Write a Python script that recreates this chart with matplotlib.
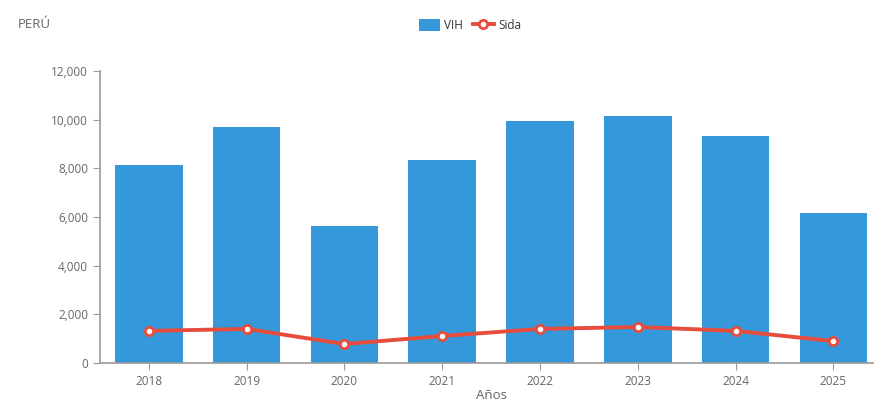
import matplotlib.pyplot as plt
from matplotlib.ticker import FuncFormatter

plt.rcParams['font.family'] = ['Open Sans', 'DejaVu Sans']

years = ['2018', '2019', '2020', '2021', '2022', '2023', '2024', '2025']
vih = [8150, 9700, 5630, 8340, 9950, 10150, 9330, 6160]
sida = [1320, 1400, 780, 1110, 1400, 1480, 1320, 900]

fig = plt.figure(figsize=(8.74, 4.05), dpi=100)
ax = fig.add_axes([0.1144, 0.1037, 0.895, 0.721])

x = range(len(years))
bars = ax.bar(x, vih, width=0.69, color='#3498db', label='VIH', zorder=2)
line, = ax.plot(x, sida, color='#e74c3c', lw=2.8, marker='o', markersize=6,
                markerfacecolor='white', markeredgecolor='#e74c3c', markeredgewidth=2,
                label='Sida', zorder=3)

ax.set_xlim(-0.5, len(years) - 0.5)
ax.set_ylim(0, 12000)
ax.set_xticks(list(x))
ax.set_xticklabels(years)
ax.set_yticks(range(0, 12001, 2000))
ax.yaxis.set_major_formatter(FuncFormatter(lambda v, p: f'{int(v):,}'))

for s in ['top', 'right']:
    ax.spines[s].set_visible(False)
for s in ['left', 'bottom']:
    ax.spines[s].set_color('#9a9a9a')
    ax.spines[s].set_linewidth(1.2)
ax.tick_params(colors='#9a9a9a', labelcolor='#666666', labelsize=8.5, length=5)

ax.set_xlabel('Años', color='#666666', fontsize=9.5, labelpad=1)
fig.text(0.02, 0.94, 'PERÚ', color='#666666', fontsize=9.5, va='center')

ax.legend([bars, line], ['VIH', 'Sida'], loc='center', bbox_to_anchor=(0.538, 0.938),
          bbox_transform=fig.transFigure, ncol=2, frameon=False, fontsize=8.5,
          handlelength=1.8, handleheight=1.2, columnspacing=0.8,
          handletextpad=0.4, labelcolor='#333333')

fig.savefig('out.png', dpi=100, facecolor='white')
